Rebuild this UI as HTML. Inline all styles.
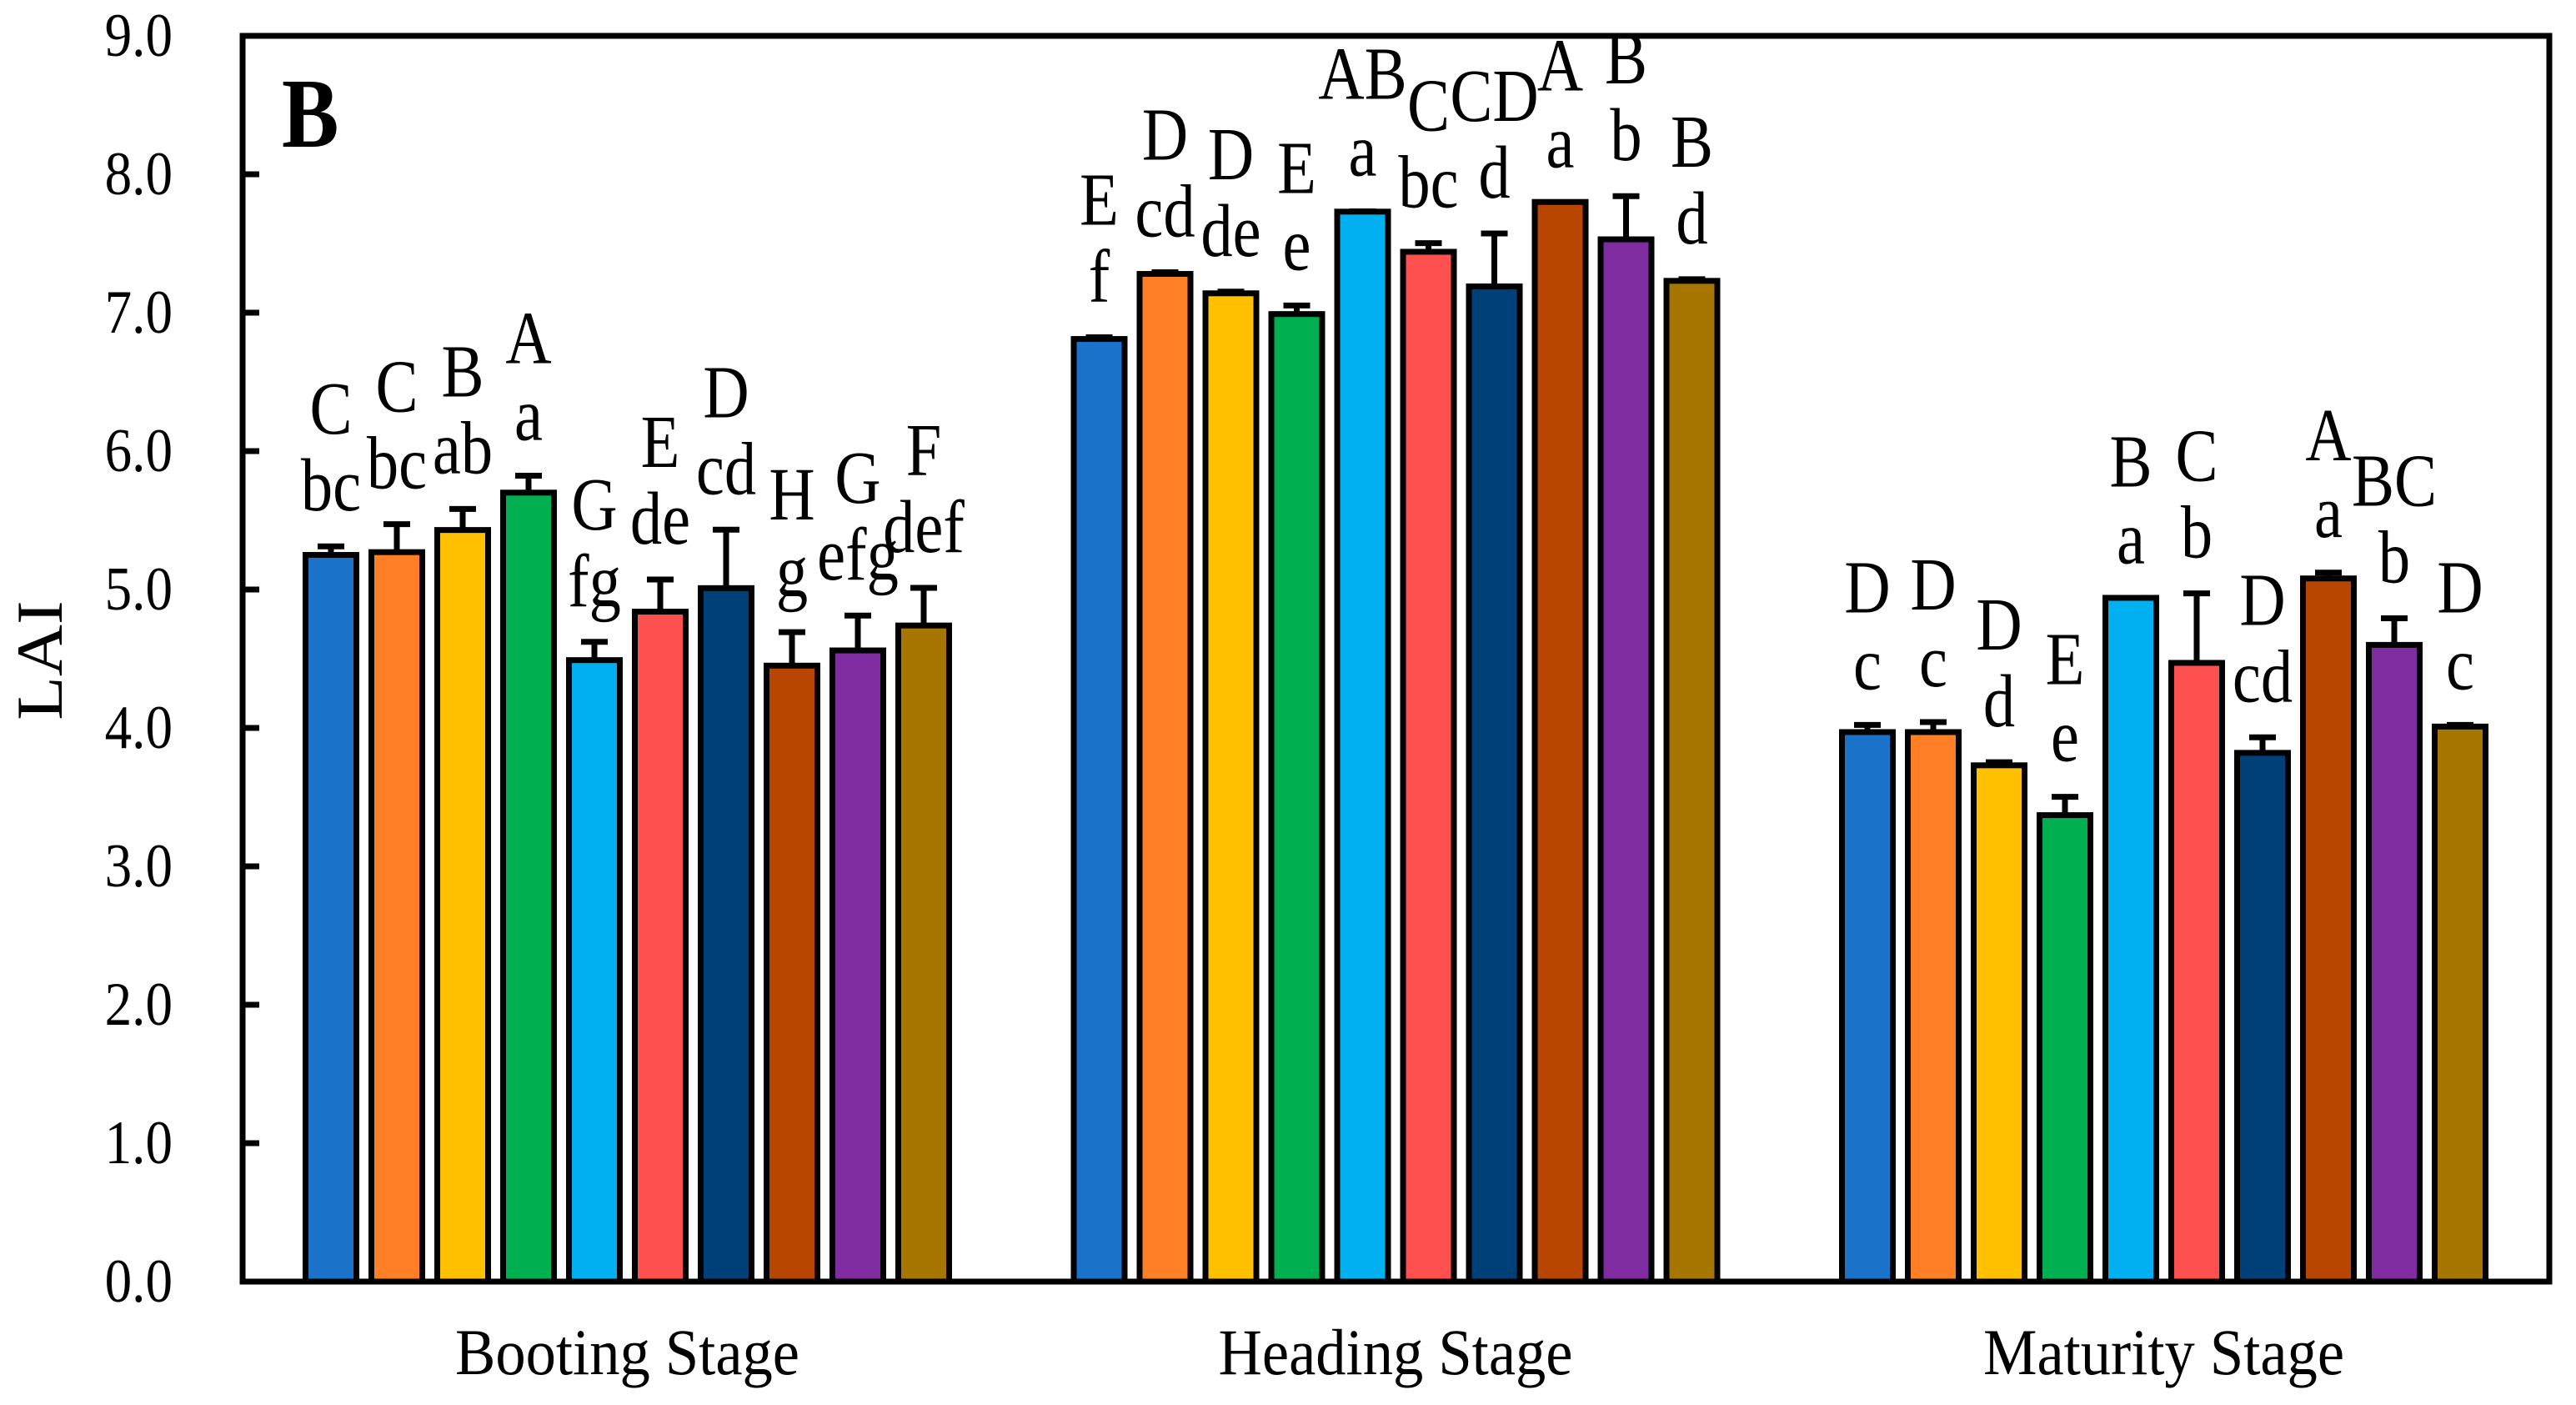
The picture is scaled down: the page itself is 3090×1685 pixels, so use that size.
<!DOCTYPE html>
<html><head><meta charset="utf-8"><style>
html,body{margin:0;padding:0;background:#fff;}
svg{display:block;font-family:"Liberation Serif","Times New Roman",serif;}
</style></head><body>
<svg id="chart" width="3090" height="1685" viewBox="0 0 3090 1685" xmlns="http://www.w3.org/2000/svg">
<g id="bars"></g>
<g id="labels"></g>
<rect x="291" y="43" width="2767" height="1494" fill="none" stroke="#000" stroke-width="7"/>
<g id="axis"></g>
<text transform="translate(338,176) scale(0.95,1.1)" font-size="108" font-weight="bold">B</text>
<text transform="translate(74,792) rotate(-90) scale(1.05,0.95)" text-anchor="middle" font-size="82">LAI</text>
</svg>
<script>
const stages = ["Booting Stage","Heading Stage","Maturity Stage"];
const colors = ["#1a73c8","#ff7f27","#ffc000","#00b050","#00b0f0","#ff5050","#004078","#b84500","#7f2ca0","#a67600"];
const booting = [5.25,5.27,5.43,5.70,4.49,4.84,5.01,4.45,4.56,4.74];
const heading = [6.81,7.28,7.14,6.99,7.73,7.44,7.19,7.80,7.53,7.23];
const maturity = [3.97,3.97,3.73,3.37,4.94,4.47,3.82,5.08,4.60,4.01];
const bootingErr = [0.08,0.22,0.17,0.14,0.15,0.25,0.44,0.26,0.27,0.29];
const headingErr = [0.03,0.03,0.03,0.08,0.02,0.08,0.40,0.01,0.33,0.03];
const maturityErr = [0.07,0.09,0.04,0.15,0.01,0.52,0.13,0.06,0.21,0.03];
const bootingUpper = ["C","C","B","A","G","E","D","H","G","F"];
const bootingLower = ["bc","bc","ab","a","fg","de","cd","g","efg","def"];
const headingUpper = ["E","D","D","E","AB","C","CD","A","B","B"];
const headingLower = ["f","cd","de","e","a","bc","d","a","b","d"];
const maturityUpper = ["D","D","D","E","B","C","D","A","BC","D"];
const maturityLower = ["c","c","d","e","a","b","cd","a","b","c"];
const yTicks = ["0.0","1.0","2.0","3.0","4.0","5.0","6.0","7.0","8.0","9.0"];

const NS="http://www.w3.org/2000/svg";
const y0=1537, pxPerUnit=166;
function yScale(v){return y0 - v*pxPerUnit;}
function xScale(g,i){return 397 + g*921.5 + i*79;}
function mk(tag,attrs,parent){const e=document.createElementNS(NS,tag);for(const k in attrs)e.setAttribute(k,attrs[k]);parent.appendChild(e);return e;}

const vals=[booting,heading,maturity], errs=[bootingErr,headingErr,maturityErr];
const ups=[bootingUpper,headingUpper,maturityUpper], lows=[bootingLower,headingLower,maturityLower];
const barsG=document.getElementById('bars'), labG=document.getElementById('labels'), axG=document.getElementById('axis');
for(let g=0;g<3;g++){
  for(let i=0;i<vals[g].length;i++){
    const cx=xScale(g,i), v=vals[g][i], e=errs[g][i];
    const top=yScale(v), et=yScale(v+e);
    const eb=mk('line',{x1:cx,x2:cx,y1:top,y2:et,stroke:'#000','stroke-width':7},barsG);
    
    
    const cap=mk('line',{x1:cx-16,x2:cx+16,y1:et+3,y2:et+3,stroke:'#000','stroke-width':7},barsG);
    
    
    const r=mk('rect',{x:cx-30.5,y:top,width:61,height:y0-top,fill:colors[i],stroke:'#000','stroke-width':7},barsG);
    
    
    const lb=et-40;
    const t1=mk('text',{transform:'translate('+cx+','+lb+') scale(0.85,1)','text-anchor':'middle','font-size':90},labG);
    t1.textContent=lows[g][i];
    
    
    const t2=mk('text',{transform:'translate('+cx+','+(lb-92)+') scale(0.85,1)','text-anchor':'middle','font-size':90},labG);
    t2.textContent=ups[g][i];
    
    
  }
  const st=mk('text',{transform:'translate('+xScale(g,4.5)+',1648) scale(0.93,1)','text-anchor':'middle','font-size':78},axG);
  st.textContent=stages[g];
  
  
}
yTicks.forEach((t,k)=>{
  const y=yScale(parseFloat(t));
  const tk=mk('line',{x1:291,x2:311,y1:y,y2:y,stroke:'#000','stroke-width':7},axG);
  
  
  const tl=mk('text',{transform:'translate(207,'+(y+24)+') scale(0.88,1)','text-anchor':'end','font-size':74},axG);
  tl.textContent=t;
  
  
});
</script>
</body></html>
